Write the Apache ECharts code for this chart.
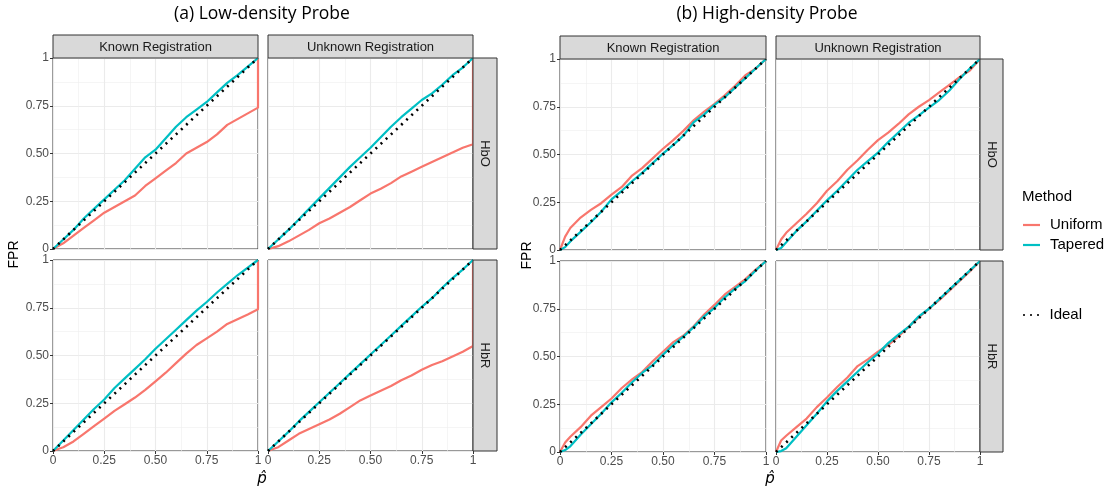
<!DOCTYPE html>
<html><head><meta charset="utf-8">
<script src="https://cdn.jsdelivr.net/npm/echarts@6/dist/echarts.min.js"></script>
<style>html,body{margin:0;padding:0;background:#fff}#c{width:1116px;height:492px}</style>
</head><body><div id="c"></div>
<script>
const xs = [0, 0.025, 0.05, 0.1, 0.15, 0.2, 0.25, 0.3, 0.35, 0.4, 0.45, 0.5, 0.55, 0.6, 0.65, 0.7, 0.75, 0.8, 0.85, 0.9, 0.95, 1];
const tickLabels = ['0', '0.25', '0.50', '0.75', '1'];
const columnLabels = ['Known Registration', 'Unknown Registration'];
const rowLabels = ['HbO', 'HbR'];
const groupTitles = ['(a) Low-density Probe', '(b) High-density Probe'];
const seriesNames = ['Uniform', 'Tapered', 'Ideal'];
const idealLine = [[0, 0], [1, 1]];

// (a) Low-density Probe
const aKnownHbO_uni = [0,.015,.03,.07,.11,.15,.19,.22,.25,.28,.33,.37,.41,.45,.50,.53,.56,.60,.65,.68,.71,.74];
const aKnownHbO_tap = [0,.025,.05,.10,.16,.21,.26,.31,.36,.42,.48,.52,.58,.64,.69,.73,.77,.82,.87,.91,.955,1];
const aUnkHbO_uni = [0,.007,.015,.04,.07,.10,.135,.16,.19,.22,.255,.29,.315,.345,.38,.405,.43,.455,.48,.505,.53,.548];
const aUnkHbO_tap = [0,.025,.05,.10,.155,.21,.265,.32,.375,.43,.48,.53,.585,.64,.69,.735,.78,.815,.86,.91,.95,1];
const aKnownHbR_uni = [0,.01,.02,.05,.09,.13,.17,.21,.245,.28,.32,.365,.41,.46,.51,.555,.59,.625,.665,.69,.715,.742];
const aKnownHbR_tap = [0,.028,.055,.11,.165,.22,.27,.33,.38,.43,.48,.535,.585,.635,.685,.735,.78,.83,.875,.92,.96,1];
const aUnkHbR_uni = [0,.01,.02,.055,.09,.115,.14,.165,.195,.23,.265,.29,.315,.34,.37,.395,.425,.45,.47,.495,.52,.55];
const aUnkHbR_tap = [0,.025,.05,.10,.155,.205,.255,.305,.355,.405,.455,.505,.555,.605,.655,.705,.755,.80,.855,.905,.95,1];
// (b) High-density Probe
const bKnownHbO_uni = [0,.07,.115,.17,.21,.245,.29,.33,.39,.43,.48,.53,.575,.625,.68,.725,.765,.81,.86,.915,.95,1];
const bKnownHbO_tap = [0,.015,.045,.095,.145,.20,.265,.31,.36,.405,.455,.505,.55,.60,.67,.71,.76,.80,.85,.90,.95,1];
const bUnkHbO_uni = [0,.055,.09,.14,.19,.245,.31,.36,.42,.47,.525,.575,.615,.66,.71,.75,.785,.825,.865,.905,.94,1];
const bUnkHbO_tap = [0,.01,.04,.10,.15,.205,.26,.31,.365,.42,.465,.51,.565,.615,.665,.705,.745,.785,.835,.895,.95,1];
const bKnownHbR_uni = [0,.05,.08,.13,.19,.235,.28,.335,.38,.42,.475,.525,.575,.61,.66,.72,.77,.825,.865,.905,.955,1];
const bKnownHbR_tap = [0,.01,.03,.09,.145,.20,.26,.31,.365,.415,.455,.51,.56,.605,.655,.71,.755,.81,.855,.895,.95,1];
const bUnkHbR_uni = [0,.06,.085,.13,.175,.235,.285,.34,.39,.45,.485,.525,.56,.605,.655,.705,.75,.795,.845,.895,.945,1];
const bUnkHbR_tap = [0,.005,.02,.08,.14,.20,.265,.32,.37,.42,.47,.515,.57,.615,.655,.71,.75,.80,.85,.90,.95,1];

const panels = [
  {g:0,c:0,r:0,u:aKnownHbO_uni,t:aKnownHbO_tap,close:true},
  {g:0,c:1,r:0,u:aUnkHbO_uni,t:aUnkHbO_tap,close:true},
  {g:0,c:0,r:1,u:aKnownHbR_uni,t:aKnownHbR_tap,close:true},
  {g:0,c:1,r:1,u:aUnkHbR_uni,t:aUnkHbR_tap,close:true},
  {g:1,c:0,r:0,u:bKnownHbO_uni,t:bKnownHbO_tap,close:false},
  {g:1,c:1,r:0,u:bUnkHbO_uni,t:bUnkHbO_tap,close:false},
  {g:1,c:0,r:1,u:bKnownHbR_uni,t:bKnownHbR_tap,close:false},
  {g:1,c:1,r:1,u:bUnkHbR_uni,t:bUnkHbR_tap,close:false}
];

const L = [
  {cols:[[53,205],[268,205]], rows:[[58,191],[260,191]], stripTop:35, rightStrip:[473,24], title:262, ylab:14, xlab:262},
  {cols:[[560,206],[776,204]], rows:[[59,191],[261,191]], stripTop:36, rightStrip:[980,23], title:767, ylab:527, xlab:770}
];
const colors = {Uniform:'#F8766D', Tapered:'#00BFC4', Ideal:'#000000'};
const fmt = v => { const i = Math.round(v / 0.25); return Math.abs(v - i*0.25) < 1e-6 ? tickLabels[i] : ''; };

const grids = [], xAxes = [], yAxes = [], series = [], graphics = [];
panels.forEach((p, i) => {
  const lay = L[p.g];
  const [left, width] = lay.cols[p.c];
  const [top, height] = lay.rows[p.r];
  grids.push({left, top, width, height, show:true, borderColor:'#333', borderWidth:1, backgroundColor:'#fff'});
  const common = {
    type:'value', min:0, max:1, interval:0.25, gridIndex:i,
    axisLine:{show:false},
    splitLine:{show:true, lineStyle:{color:'#EBEBEB', width:1.1}},
    minorTick:{show:false, splitNumber:2},
    minorSplitLine:{show:true, lineStyle:{color:'#EFEFEF', width:0.6}}
  };
  xAxes.push(Object.assign({}, common, {
    axisTick:{show:p.r===1, length:3, lineStyle:{color:'#333'}},
    axisLabel:{show:p.r===1, formatter:fmt, color:'#4D4D4D', fontSize:12, fontFamily:'Liberation Sans', margin:4, showMinLabel:true, showMaxLabel:true}
  }));
  yAxes.push(Object.assign({}, common, {
    axisTick:{show:p.c===0, length:3, lineStyle:{color:'#333'}},
    axisLabel:{show:p.c===0, formatter:fmt, color:'#4D4D4D', fontSize:12, fontFamily:'Liberation Sans', margin:4, showMinLabel:true, showMaxLabel:true}
  }));
  const uData = xs.map((x, k) => [x, p.u[k]]);
  if (p.close) uData.push([1, 1]);
  series.push({name:'Uniform', type:'line', xAxisIndex:i, yAxisIndex:i, symbol:'none', data:uData,
    lineStyle:{color:colors.Uniform, width:2.2}, itemStyle:{color:colors.Uniform}, z:2, silent:true, animation:false});
  series.push({name:'Tapered', type:'line', xAxisIndex:i, yAxisIndex:i, symbol:'none', data:xs.map((x, k) => [x, p.t[k]]),
    lineStyle:{color:colors.Tapered, width:2.2}, itemStyle:{color:colors.Tapered}, z:3, silent:true, animation:false});
  series.push({name:'Ideal', type:'line', xAxisIndex:i, yAxisIndex:i, symbol:'none', data:idealLine,
    lineStyle:{color:'#000', width:2.6, type:[2, 5], cap:'butt'}, itemStyle:{color:'#000'}, z:4, silent:true, animation:false});
});

L.forEach((lay, g) => {
  lay.cols.forEach(([left, width], c) => {
    graphics.push({type:'rect', shape:{x:left, y:lay.stripTop, width, height:lay.rows[0][0]-lay.stripTop},
      style:{fill:'#D9D9D9', stroke:'#333', lineWidth:1}, z:10});
    graphics.push({type:'text', x:left+width/2, y:(lay.stripTop+lay.rows[0][0])/2+0.5,
      style:{text:columnLabels[c], fill:'#1A1A1A', fontSize:13, fontFamily:'Liberation Sans', align:'center', verticalAlign:'middle'}, z:11});
  });
  lay.rows.forEach(([top, height], r) => {
    const [sx, sw] = lay.rightStrip;
    graphics.push({type:'rect', shape:{x:sx, y:top, width:sw, height},
      style:{fill:'#D9D9D9', stroke:'#333', lineWidth:1}, z:10});
    graphics.push({type:'text', x:sx+sw/2, y:top+height/2, rotation:-Math.PI/2,
      style:{text:rowLabels[r], fill:'#1A1A1A', fontSize:13, fontFamily:'Liberation Sans', align:'center', verticalAlign:'middle'}, z:11});
  });
  graphics.push({type:'text', x:lay.title, y:14,
    style:{text:groupTitles[g], fill:'#000', fontSize:17.5, fontFamily:'Open Sans', align:'center', verticalAlign:'middle'}, z:11});
  graphics.push({type:'text', x:lay.ylab, y:(lay.rows[0][0]+lay.rows[1][0]+lay.rows[1][1])/2, rotation:Math.PI/2,
    style:{text:'FPR', fill:'#000', fontSize:14, fontFamily:'Liberation Sans', align:'center', verticalAlign:'middle'}, z:11});
  graphics.push({type:'text', x:lay.xlab, y:479,
    style:{text:'p\u0302', fill:'#000', fontSize:15, fontStyle:'italic', fontFamily:'DejaVu Sans', align:'center', verticalAlign:'middle'}, z:11});
});
graphics.push({type:'text', x:1022, y:197,
  style:{text:'Method', fill:'#000', fontSize:15, fontFamily:'Liberation Sans', align:'left', verticalAlign:'middle'}, z:11});

const chart = echarts.init(document.getElementById('c'), null, {renderer:'canvas'});
const legendText = {fontSize:15, color:'#000', fontFamily:'Liberation Sans', lineHeight:20, padding:[0,0,0,5]};
chart.setOption({
  animation:false,
  backgroundColor:'#fff',
  grid:grids, xAxis:xAxes, yAxis:yAxes, series,
  legend:[
    {data:[{name:'Uniform', icon:'rect'}, {name:'Tapered', icon:'rect'}], left:1018, top:210, orient:'vertical',
     itemWidth:17, itemHeight:2.2, itemGap:0, textStyle:legendText, selectedMode:false},
    {data:[{name:'Ideal', icon:'path://M0 0h2v2H0zM7 0h2v2H7zM14 0h2v2h-2z'}], left:1018, top:300, orient:'vertical',
     itemWidth:17, itemHeight:2, itemGap:0, textStyle:legendText, selectedMode:false, itemStyle:{color:'#333'}}
  ],
  graphic:graphics
});
</script></body></html>
